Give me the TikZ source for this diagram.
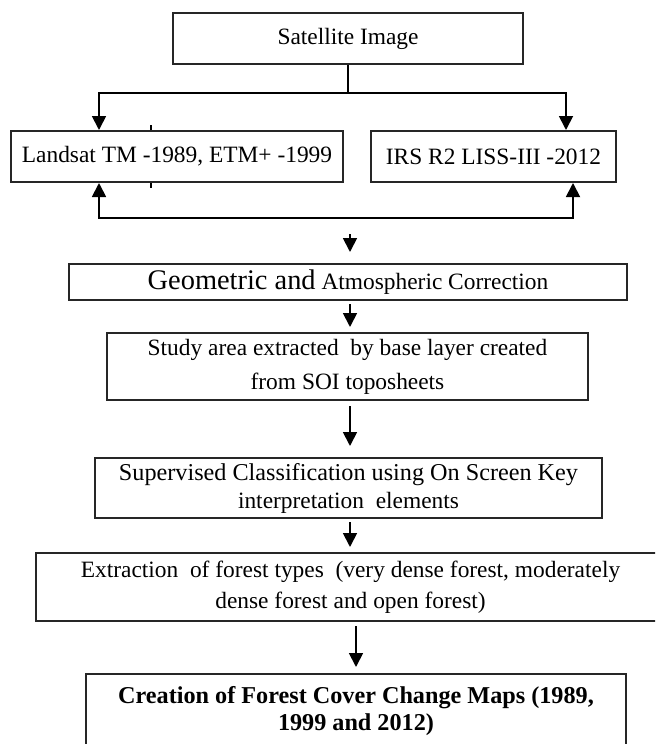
\documentclass[tikz,border=0pt]{standalone}
\usepackage{fontspec}
\setmainfont{Liberation Serif}
\usetikzlibrary{arrows.meta}
\begin{document}
\begin{tikzpicture}[x=0.5pt,y=-0.5pt,
  box/.style={draw=black!85, line width=1pt, rectangle, inner sep=0pt, align=center,
    font=\fontsize{11.7}{14}\selectfont},
  line/.style={draw=black, line width=0.9pt},
  arr/.style={line, -{Triangle[width=7pt,length=7pt]}}]
\useasboundingbox (0,0) rectangle (655,744);
\clip (0,0) rectangle (655,744);
% boxes
\node[box, minimum width=175pt, minimum height=25.5pt] (sat) at (348,38.5) {Satellite Image};
\node[box, minimum width=166pt, minimum height=25.5pt] (land) at (177,156.5) {Landsat TM -1989, ETM+ -1999};
\node[box, minimum width=122.5pt, minimum height=25.5pt] (irs) at (493.5,156.5) {IRS R2 LISS-III -2012};
\node[box, minimum width=279pt, minimum height=18pt] (geo) at (348,282)
  {{\fontsize{14.2}{15}\selectfont Geometric and} {\fontsize{11.7}{13}\selectfont Atmospheric Correction}};
\node[box, minimum width=240.5pt, minimum height=33.5pt, font=\fontsize{11.7}{17}\selectfont] (study) at (347.5,366.5)
  {Study area extracted\ \ by base layer created\\from SOI toposheets};
\node[box, minimum width=253.5pt, minimum height=30pt, font=\fontsize{11.7}{14}\selectfont] (sup) at (348.5,488)
  {\fontsize{12.1}{14}\selectfont Supervised Classification using On Screen Key\\interpretation\ \ elements};
\node[box, minimum width=314.5pt, minimum height=34pt, font=\fontsize{11.7}{15.5}\selectfont] (ext) at (350.5,587)
  {Extraction\ \ of forest types\ \ (very dense forest, moderately\\dense forest and open forest)};
\node[box, minimum width=270pt, minimum height=37.5pt, font=\bfseries\fontsize{12.1}{13.5}\selectfont] (fin) at (356,711.5)
  {Creation of Forest Cover Change Maps (1989,\\1999 and 2012)};
% helper coordinates
\coordinate (cL) at (99,0);
\coordinate (cR) at (566,0);
\coordinate (cR2) at (573,0);
\coordinate (jn) at (348,93);
\coordinate (bot) at (350,218);
\coordinate (gs) at (350,234);
% connectors
\draw[line] (sat.south) -- (jn);
\draw[arr] (jn) -| (land.north -| cL);
\draw[arr] (jn) -| (irs.north -| cR);
\draw[arr] (bot) -| (land.south -| cL);
\draw[arr] (bot) -| (irs.south -| cR2);
\draw[arr, shorten >=5.5pt] (gs) -- (gs |- geo.north);
\draw[arr, shorten <=1.5pt, shorten >=2.5pt] (geo.south -| gs) -- (study.north -| gs);
\draw[arr, shorten <=2.5pt, shorten >=5.5pt] (study.south -| gs) -- (sup.north -| gs);
\draw[arr, shorten <=1.5pt, shorten >=2.5pt] (sup.south -| gs) -- (ext.north -| gs);
\draw[arr, shorten <=2pt, shorten >=3pt] (ext.south -| fin.north) -- (fin.north);
% small ticks on Landsat box
\draw[line width=0.6pt] (land.north -| 151,0) -- ++(0,-5);
\draw[line width=0.6pt] (land.south -| 151,0) -- ++(0,5);
\end{tikzpicture}
\end{document}
